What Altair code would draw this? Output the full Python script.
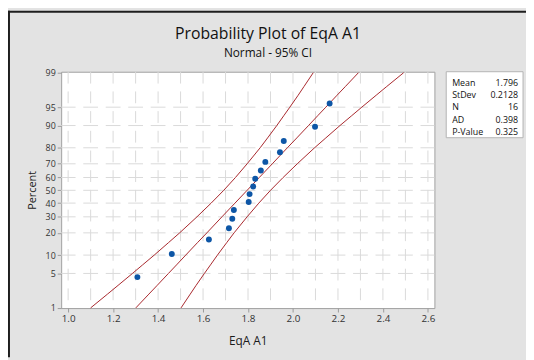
import altair as alt
import pandas as pd
from statistics import NormalDist

nd = NormalDist()

title_text = "Probability Plot of EqA A1"
subtitle_text = "Normal - 95% CI"
x_title = "EqA A1"
y_title = "Percent"

pt_value = [1.308, 1.461, 1.626, 1.715, 1.730, 1.737, 1.803, 1.807,
            1.823, 1.832, 1.857, 1.877, 1.942, 1.959, 2.098, 2.163]
pt_percent = [4.3, 10.4, 16.5, 22.6, 28.7, 34.8, 40.9, 47.0,
              53.0, 59.1, 65.2, 71.3, 77.4, 83.5, 89.6, 95.7]

# fitted line and 95% CI band read at these percent levels
curve_percent = [1, 2, 3, 5, 7, 10, 15, 20, 30, 40, 50, 60, 70, 80, 85, 90, 93, 95, 97, 98, 99]
fit_x = [1.301, 1.359, 1.396, 1.446, 1.482, 1.523, 1.575, 1.617, 1.684, 1.742, 1.796,
         1.850, 1.908, 1.975, 2.017, 2.069, 2.110, 2.146, 2.196, 2.233, 2.291]
left_x = [1.100, 1.175, 1.222, 1.286, 1.331, 1.383, 1.446, 1.496, 1.573, 1.636, 1.692,
          1.744, 1.796, 1.854, 1.887, 1.928, 1.959, 1.986, 2.023, 2.049, 2.090]
right_x = [1.502, 1.543, 1.569, 1.606, 1.633, 1.664, 1.705, 1.738, 1.796, 1.848, 1.900,
           1.956, 2.019, 2.096, 2.146, 2.209, 2.261, 2.306, 2.370, 2.417, 2.492]

x_ticks = [1.0, 1.2, 1.4, 1.6, 1.8, 2.0, 2.2, 2.4, 2.6]
x_grid = [1.0, 1.1, 1.2, 1.3, 1.4, 1.5, 1.6, 1.7, 1.8, 1.9, 2.0, 2.1, 2.2, 2.3, 2.4, 2.5, 2.6]
y_tick_pct = [1, 5, 10, 20, 30, 40, 50, 60, 70, 80, 90, 95, 99]

stat_names = ["Mean", "StDev", "N", "AD", "P-Value"]
stat_values = ["1.796", "0.2128", "16", "0.398", "0.325"]

# ---------- layout ----------
W, H = 379, 240
FONT = "Open Sans"
RED = "#a8272c"
BLUE = "#0d56a6"
GRID = "#d9d9d9"

def z(p):
    return nd.inv_cdf(p / 100.0)

y_tick_z = [z(p) for p in y_tick_pct]
expr = ""
for i in range(len(y_tick_pct) - 1):
    mid = (y_tick_z[i] + y_tick_z[i + 1]) / 2
    expr += f"datum.value < {mid:.4f} ? '{y_tick_pct[i]}' : "
expr += f"'{y_tick_pct[-1]}'"

xs = alt.Scale(domain=[0.969, 2.629], nice=False, zero=False)
ys = alt.Scale(domain=[-2.33, 2.346], nice=False, zero=False)

x_axis = alt.Axis(values=x_ticks, format=".1f", title=x_title, grid=False, domain=False,
                  tickSize=4, tickColor="#9a9a9a", labelFontSize=10, labelColor="#333333",
                  labelPadding=2, titleFontSize=12, titleFontWeight="normal",
                  titleColor="#1a1a1a", titlePadding=12, labelFont=FONT, titleFont=FONT)
y_axis = alt.Axis(values=y_tick_z, labelExpr=expr, title=y_title, grid=False, domain=False,
                  tickSize=4, tickColor="#9a9a9a", labelFontSize=9, labelColor="#333333",
                  labelPadding=2, titleFontSize=11, titleFontWeight="normal",
                  titleColor="#1a1a1a", titlePadding=8, labelFont=FONT, titleFont=FONT)

def X(field="x"):
    return alt.X(f"{field}:Q", scale=xs, axis=x_axis)

def Y(field="z"):
    return alt.Y(f"{field}:Q", scale=ys, axis=y_axis)

# grid
vgrid = alt.Chart(pd.DataFrame({"x": x_grid})).mark_rule(
    color=GRID, strokeWidth=1, strokeDash=[12, 8]
).encode(x=X(), y=alt.value(0), y2=alt.value(H))

hgrid = alt.Chart(pd.DataFrame({"z": [z(p) for p in y_tick_pct[1:-1]]})).mark_rule(
    color=GRID, strokeWidth=1, strokeDash=[15, 7.83], strokeDashOffset=0.4
).encode(y=Y(), x=alt.value(0), x2=alt.value(W))

# curves
rows = []
for name, arr in (("fit", fit_x), ("lower", left_x), ("upper", right_x)):
    for p, v in zip(curve_percent, arr):
        rows.append({"curve": name, "x": v, "z": z(p)})
curves_df = pd.DataFrame(rows)
curves = alt.Chart(curves_df).mark_line(color=RED, strokeWidth=1).encode(
    x=X(), y=Y(), detail="curve:N", order="z:Q"
)

pts_df = pd.DataFrame({"x": pt_value, "z": [z(p) for p in pt_percent]})
points = alt.Chart(pts_df).mark_circle(size=36, color=BLUE, opacity=1).encode(x=X(), y=Y())

# titles
title = alt.Chart(pd.DataFrame({"t": [title_text]})).mark_text(
    fontSize=16, font=FONT, color="#111111", align="center", baseline="alphabetic").encode(
    text="t:N", x=alt.value(210), y=alt.value(-33))
sub = alt.Chart(pd.DataFrame({"t": [subtitle_text]})).mark_text(
    fontSize=12, font=FONT, color="#111111", align="center", baseline="alphabetic").encode(
    text="t:N", x=alt.value(210), y=alt.value(-15))

# stats box
box = alt.Chart(pd.DataFrame({"a": [0]})).mark_rect(
    fill="white", stroke="#b4b4b4", strokeWidth=1).encode(
    x=alt.value(391), x2=alt.value(469), y=alt.value(0), y2=alt.value(67))

stat_layers = []
for i, (n, v) in enumerate(zip(stat_names, stat_values)):
    yy = 11.7 + 12.3 * i
    stat_layers.append(alt.Chart(pd.DataFrame({"t": [n]})).mark_text(
        fontSize=9, font=FONT, color="#111111", align="left", baseline="middle").encode(
        text="t:N", x=alt.value(397), y=alt.value(yy)))
    stat_layers.append(alt.Chart(pd.DataFrame({"t": [v]})).mark_text(
        fontSize=9, font=FONT, color="#111111", align="right", baseline="middle").encode(
        text="t:N", x=alt.value(464), y=alt.value(yy)))

# outer border (top & left)
dummy = pd.DataFrame({"a": [0]})
top_border = alt.Chart(dummy).mark_rule(color="#1e1e1e", strokeWidth=2).encode(
    x=alt.value(-54), x2=alt.value(472), y=alt.value(-61))
left_border = alt.Chart(dummy).mark_rule(color="#1e1e1e", strokeWidth=2).encode(
    x=alt.value(-53), y=alt.value(-62), y2=alt.value(290))

chart = alt.layer(vgrid, hgrid, curves, points, title, sub, box, *stat_layers,
                  top_border, left_border).properties(
    width=W, height=H,
    autosize=alt.AutoSizeParams(type="none"),
    padding={"left": 54, "top": 62, "right": 93, "bottom": 50},
    background="#e3e3e3",
).configure_view(stroke="#a0a0a0", fill="white", strokeWidth=1)

chart.save("out.html", embed_options={"renderer": "svg", "actions": False})
